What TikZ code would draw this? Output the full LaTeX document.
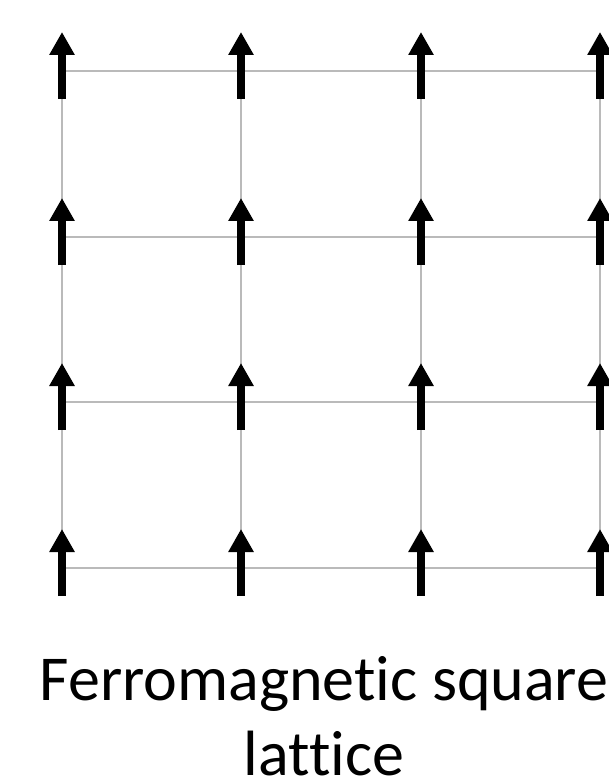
\documentclass[tikz,border=0pt]{standalone}
\usepackage{fontspec}
\setmainfont{Carlito}[Ligatures={NoCommon,NoRequired,NoContextual}]
\usetikzlibrary{arrows.meta}
\tikzset{
  gridline/.style={draw=black!27, line width=1.5pt},
  spin/.style={draw=black, line width=8.5pt, -{Triangle[length=23pt,width=24pt]}},
  caption/.style={font=\fontsize{64}{75}\selectfont, anchor=base, inner sep=0pt, text=black}
}
\begin{document}
\begin{tikzpicture}[x=1pt,y=-1pt]
\useasboundingbox (0,0) rectangle (608,783);
\fill[white] (0,0) rectangle (608,783);
% lattice points
\foreach \i/\x in {1/62,2/241,3/421,4/600}{
  \foreach \j/\y in {1/71,2/237,3/402,4/568}{
    \coordinate (p\i\j) at (\x,\y);
  }
}
% grid lines
\foreach \j in {1,2,3,4}{ \draw[gridline] (p1\j) -- (p4\j); }
\foreach \i in {1,2,3,4}{ \draw[gridline] (p\i1) -- (p\i4); }
% spins
\foreach \i in {1,2,3,4}{
  \foreach \j in {1,2,3,4}{
    \draw[spin] ([yshift=-28pt]p\i\j) -- ([yshift=39pt]p\i\j);
  }
}
\node[caption] (title1) at (324,700) {Ferromagnetic square};
\node[caption] (title2) at (324,775) {lattice};
\end{tikzpicture}
\end{document}
